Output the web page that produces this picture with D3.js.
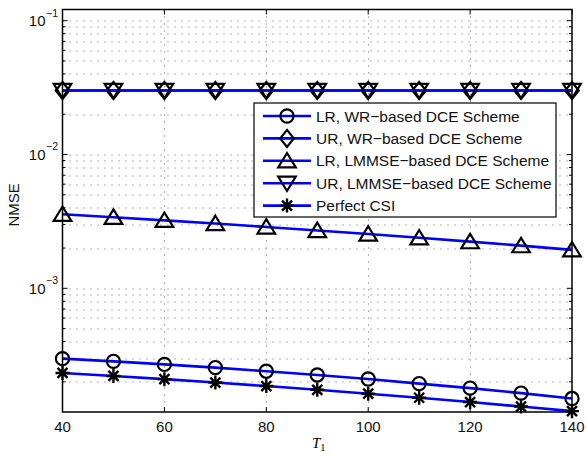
<!DOCTYPE html>
<html>
<head>
<meta charset="utf-8">
<script src="https://cdn.jsdelivr.net/npm/d3@7"></script>
<style>
  body { margin: 0; background: #fff; }
  svg { display: block; font-family: "Liberation Sans", Arial, Helvetica, sans-serif; }
</style>
</head>
<body>
<div id="chart"></div>
<script>
const t1 = [40, 50, 60, 70, 80, 90, 100, 110, 120, 130, 140];
const lrWr = [2.98e-4, 2.845e-4, 2.70e-4, 2.555e-4, 2.40e-4, 2.25e-4, 2.10e-4, 1.94e-4, 1.795e-4, 1.647e-4, 1.50e-4];
const urWr = [0.0301, 0.0301, 0.0301, 0.0301, 0.0301, 0.0301, 0.0301, 0.0301, 0.0301, 0.0301, 0.0301];
const lrLmmse = [3.573e-3, 3.396e-3, 3.22e-3, 3.048e-3, 2.875e-3, 2.707e-3, 2.545e-3, 2.385e-3, 2.231e-3, 2.083e-3, 1.938e-3];
const urLmmse = [0.0301, 0.0301, 0.0301, 0.0301, 0.0301, 0.0301, 0.0301, 0.0301, 0.0301, 0.0301, 0.0301];
const perfect = [2.33e-4, 2.212e-4, 2.094e-4, 1.975e-4, 1.86e-4, 1.743e-4, 1.63e-4, 1.52e-4, 1.412e-4, 1.307e-4, 1.208e-4];
const seriesNames = ['LR, WR\u2212based DCE Scheme', 'UR, WR\u2212based DCE Scheme', 'LR, LMMSE\u2212based DCE Scheme', 'UR, LMMSE\u2212based DCE Scheme', 'Perfect CSI'];
const seriesMarkers = ['circle', 'diamond', 'triangleUp', 'triangleDown', 'star'];
const xTicks = [40, 60, 80, 100, 120, 140];
const yMajor = [1e-3, 1e-2, 1e-1];
const yMajorExp = ['\u22123', '\u22122', '\u22121'];

const series = [lrWr, urWr, lrLmmse, urLmmse, perfect].map((values, i) => ({
    name: seriesNames[i], marker: seriesMarkers[i], values
}));

const W = 587, H = 458;
const margin = { top: 9.5, right: 15, bottom: 46, left: 62.5 };
const width = W - margin.left - margin.right;
const height = H - margin.top - margin.bottom;

const svg = d3.select('#chart').append('svg').attr('width', W).attr('height', H);
const g = svg.append('g').attr('transform', `translate(${margin.left},${margin.top})`);

const x = d3.scaleLinear().domain([40, 140]).range([0, width]);
const y = d3.scaleLog().domain([1.19e-4, 0.1212]).range([height, 0]);

// minor log ticks inside the domain
const yMinor = [];
[1e-4, 1e-3, 1e-2, 1e-1].forEach(d => {
    for (let k = 2; k <= 9; k++) {
        const v = d * k;
        if (v > y.domain()[0] && v < y.domain()[1]) yMinor.push(v);
    }
});

const px = v => Math.round(v) + 0.5;

// grid, MATLAB style dotted
const grid = g.append('g').attr('stroke', '#666').attr('stroke-width', 1).attr('stroke-dasharray', '1,6');
grid.selectAll('.gx').data(xTicks.slice(1, -1)).enter().append('line')
    .attr('x1', d => px(x(d)) - 0.5).attr('x2', d => px(x(d)) - 0.5).attr('y1', 0).attr('y2', height);
grid.selectAll('.gy').data(yMajor.concat(yMinor)).enter().append('line')
    .attr('x1', 0).attr('x2', width).attr('y1', d => px(y(d))).attr('y2', d => px(y(d)));

// ticks (inward, on all four sides)
const tickG = g.append('g').attr('stroke', '#000').attr('stroke-width', 1);
xTicks.forEach(d => {
    tickG.append('line').attr('x1', x(d)).attr('x2', x(d)).attr('y1', height).attr('y2', height - 5);
    tickG.append('line').attr('x1', x(d)).attr('x2', x(d)).attr('y1', 0).attr('y2', 5);
});
yMajor.forEach(d => {
    tickG.append('line').attr('x1', 0).attr('x2', 5).attr('y1', y(d)).attr('y2', y(d));
    tickG.append('line').attr('x1', width).attr('x2', width - 5).attr('y1', y(d)).attr('y2', y(d));
});
yMinor.forEach(d => {
    tickG.append('line').attr('x1', 0).attr('x2', 3).attr('y1', y(d)).attr('y2', y(d));
    tickG.append('line').attr('x1', width).attr('x2', width - 3).attr('y1', y(d)).attr('y2', y(d));
});

// tick labels
g.selectAll('.xl').data(xTicks).enter().append('text')
    .attr('x', d => x(d)).attr('y', height + 20)
    .attr('text-anchor', 'middle').attr('font-size', 15).attr('fill', '#111').text(d => d);
yMajor.forEach((d, i) => {
    g.append('text').attr('x', -17).attr('y', y(d) + 5.5)
        .attr('text-anchor', 'end').attr('font-size', 15).attr('fill', '#111').text('10');
    g.append('text').attr('x', -16.5).attr('y', y(d) - 4)
        .attr('text-anchor', 'start').attr('font-size', 10.5).attr('fill', '#111').text(yMajorExp[i]);
});

// axis labels
svg.append('text').attr('transform', `translate(19,${margin.top + y(4.2e-3)}) rotate(-90)`)
    .attr('text-anchor', 'middle').attr('font-size', 15).attr('fill', '#111').text('NMSE');
const xl = svg.append('text').attr('x', 312).attr('y', 448)
    .attr('font-family', '"Liberation Serif", "Times New Roman", serif').attr('font-size', 15);
xl.append('tspan').attr('font-style', 'italic').text('T');
xl.append('tspan').attr('font-size', 10.5).attr('dy', 3).text('1');

// marker shapes
function drawMarker(sel, type) {
    sel.attr('fill', 'none').attr('stroke', '#000').attr('stroke-width', 2.2);
    if (type === 'circle') {
        sel.append('circle').attr('r', 6.6);
    } else if (type === 'diamond') {
        sel.append('path').attr('d', 'M0,-8.5L6.8,0L0,8.5L-6.8,0Z');
    } else if (type === 'triangleUp') {
        sel.append('path').attr('d', 'M0,-7.8L8.8,6.6L-8.8,6.6Z');
    } else if (type === 'triangleDown') {
        sel.append('path').attr('d', 'M0,7.8L8.8,-6.6L-8.8,-6.6Z');
    } else if (type === 'star') {
        sel.append('path').attr('d', 'M0,-7L0,7M-7,0L7,0M-5,-5L5,5M-5,5L5,-5').attr('stroke-width', 2.4);
    }
}

// plot clipping
svg.append('defs').append('clipPath').attr('id', 'clip').append('rect')
    .attr('x', -0.5).attr('y', -0.5).attr('width', width + 1).attr('height', height + 1);

const line = d3.line().x((d, i) => x(t1[i])).y(d => y(d));
const plot = g.append('g');
series.forEach(s => {
    plot.append('path').datum(s.values).attr('d', line)
        .attr('fill', 'none').attr('stroke', '#0000ff').attr('stroke-width', 2.6)
        .attr('clip-path', 'url(#clip)');
    plot.selectAll(null).data(s.values).enter().append('g')
        .attr('transform', (d, i) => `translate(${x(t1[i])},${y(d)})`)
        .each(function () { drawMarker(d3.select(this), s.marker); });
});

// box
g.append('rect').attr('width', width).attr('height', height)
    .attr('fill', 'none').attr('stroke', '#000').attr('stroke-width', 1.5);

// legend
const lg = svg.append('g').attr('transform', 'translate(254,103)');
lg.append('rect').attr('width', 302).attr('height', 114)
    .attr('fill', '#fff').attr('stroke', '#000').attr('stroke-width', 1.2);
series.forEach((s, i) => {
    const row = lg.append('g').attr('transform', `translate(0,${13 + i * 22.4})`);
    row.append('line').attr('x1', 9).attr('x2', 57).attr('y1', 0).attr('y2', 0)
        .attr('stroke', '#0000ff').attr('stroke-width', 2.6);
    drawMarker(row.append('g').attr('transform', 'translate(33,0)'), s.marker);
    row.append('text').attr('x', 62).attr('y', 5.5).attr('font-size', 15.5).attr('fill', '#111').text(s.name);
});
</script>
</body>
</html>
